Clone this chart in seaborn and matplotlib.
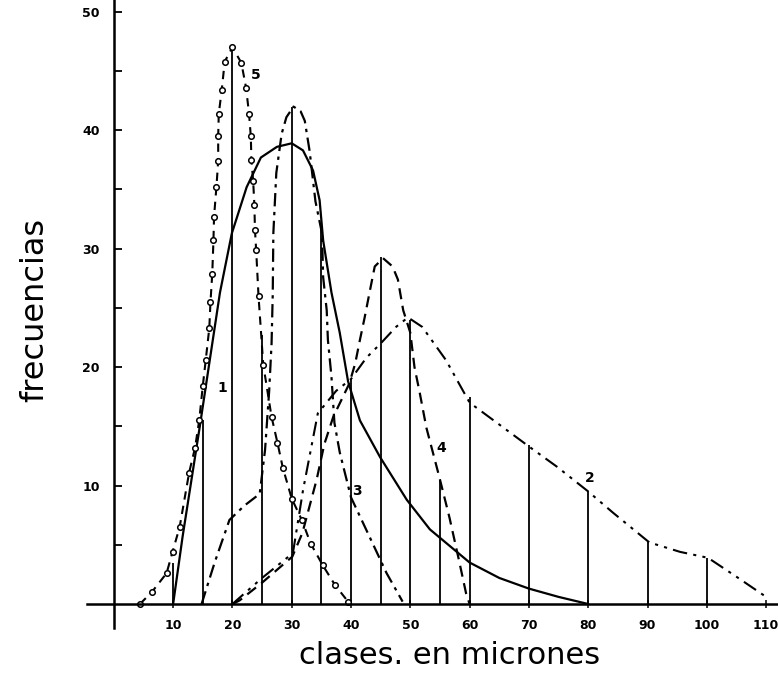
import matplotlib
matplotlib.use("Agg")
import matplotlib.pyplot as plt
import seaborn as sns
import pandas as pd

# ---- data ----
class_x = [10, 15, 20, 25, 30, 35, 40, 45, 50, 55, 60, 70, 80, 90, 100]
class_h = [3.5, 15.5, 47, 22.7, 42, 32, 19, 29.3, 24, 10.5, 17.5, 13.4, 9.5, 5.2, 3.9]

c1_x = [10, 11.6, 14.5, 16, 17.9, 19.9, 22.4, 24.8, 27.5, 30, 31.9, 33.6, 34.7, 35.3, 36.7, 38.1, 39.5, 41.5, 44.9, 49.4, 53.3, 60, 65, 70, 75, 80]
c1_y = [0, 5.7, 15, 20, 26.3, 31.3, 35.2, 37.7, 38.6, 38.9, 38.3, 36.6, 34.1, 30.7, 26.3, 22.9, 18.8, 15.5, 12.4, 8.8, 6.3, 3.5, 2.2, 1.3, 0.6, 0]

c2_x = [20, 25, 30.2, 31.9, 34.4, 37.5, 40, 42.6, 45, 47.6, 49.6, 52, 56, 60, 64.6, 70, 74.7, 80, 84.2, 90.3, 95.5, 100.2, 105, 110]
c2_y = [0, 2.2, 4.3, 9.6, 16.1, 18, 19, 20.8, 22, 23.4, 24.2, 23.4, 20.6, 17, 15.3, 13.3, 11.6, 9.5, 7.7, 5.2, 4.4, 3.9, 2.3, 0.6]

c3_x = [14.8, 17, 19.5, 22, 24.6, 25.5, 26.2, 26.6, 26.8, 26.9, 27.4, 28.3, 29.1, 30.3, 31.5, 32.2, 33, 34, 35.1, 35.3, 35.9, 36.1, 36.7, 37.2, 38.1, 40, 43.1, 46, 48.7]
c3_y = [0, 3.5, 7.1, 8.3, 9.3, 13, 18, 22, 26.2, 31.3, 36.4, 39.7, 41.1, 42, 41.6, 40.8, 38.3, 34, 31.3, 27.6, 24.8, 22.3, 19.2, 15.3, 12.8, 9, 5.7, 2.6, 0.2]

c4_x = [20, 21.2, 25, 30.1, 31.8, 34.2, 35.5, 37, 39.7, 40.7, 41.5, 42.3, 43.2, 44, 45.4, 47, 47.9, 48.8, 50, 50.7, 51.6, 52.7, 54.9, 56.6, 58.2, 59.4, 60]
c4_y = [0, 0.3, 1.8, 4, 6, 10.5, 13.5, 15.8, 18.6, 20.3, 22.3, 24.2, 26.5, 28.5, 29.2, 28.5, 27.4, 24.8, 22.9, 20, 17.8, 14.9, 10.7, 7.3, 3.7, 0.9, 0]

c5_x = [4.4, 6.4, 8.9, 9.9, 11.1, 12.7, 13.7, 14.4, 15.0, 15.5, 16.1, 16.3, 16.6, 16.8, 16.9, 17.3, 17.6, 17.6, 17.7, 18.2, 18.7, 20,
        21.5, 22.3, 22.8, 23.1, 23.2, 23.5, 23.7, 23.8, 24.0, 24.4, 25.2, 26.6, 27.6, 28.5, 30, 31.7, 33.2, 35.2, 37.3, 39.5]
c5_y = [0, 1.0, 2.6, 4.4, 6.5, 11.1, 13.2, 15.5, 18.4, 20.6, 23.3, 25.5, 27.9, 30.7, 32.7, 35.2, 37.4, 39.5, 41.4, 43.4, 45.8, 47,
        45.7, 43.6, 41.4, 39.5, 37.5, 35.7, 33.7, 31.6, 29.9, 26, 20.2, 15.8, 13.6, 11.5, 8.9, 7.1, 5.1, 3.3, 1.6, 0.2]

curve_labels = ["1", "2", "3", "4", "5"]
label_x = [18.3, 80.3, 41, 55.2, 24]
label_y = [18.2, 10.6, 9.5, 13.2, 44.7]

x_ticks = [10, 20, 30, 40, 50, 60, 70, 80, 90, 100, 110]
y_ticks = [10, 20, 30, 40, 50]

# ---- drawing ----
sns.set_theme(style="white")
plt.rcParams['font.family'] = ['DejaVu Sans']
plt.rcParams['text.color'] = 'black'
plt.rcParams['axes.labelcolor'] = 'black'
plt.rcParams['xtick.color'] = 'black'
plt.rcParams['ytick.color'] = 'black'

fig = plt.figure(figsize=(7.78, 6.90), dpi=100)
ax = fig.add_axes([0.112, 0.0903, 0.888, 0.9097])

ax.vlines(class_x, 0, class_h, colors="black", linewidth=1.3)

styles = {
    "1": dict(linestyle="-", linewidth=1.6),
    "2": dict(linestyle=(0, (7, 3, 1.5, 3, 1.5, 3)), linewidth=1.5),
    "3": dict(linestyle=(0, (6, 2.5, 1.5, 2.5)), linewidth=1.6),
    "4": dict(linestyle=(0, (5, 3)), linewidth=1.6),
}
curves = {"1": (c1_x, c1_y), "2": (c2_x, c2_y), "3": (c3_x, c3_y), "4": (c4_x, c4_y)}
for k, (xs, ys) in curves.items():
    df = pd.DataFrame({"x": xs, "y": ys})
    sns.lineplot(data=df, x="x", y="y", sort=False, estimator=None, color="black", ax=ax, **styles[k])

df5 = pd.DataFrame({"x": c5_x, "y": c5_y})
sns.lineplot(data=df5, x="x", y="y", sort=False, estimator=None, color="black", ax=ax,
             linestyle=(0, (4, 3)), linewidth=1.5, marker="o", markersize=4,
             markerfacecolor="white", markeredgecolor="black", markeredgewidth=1.1)

for t, lx, ly in zip(curve_labels, label_x, label_y):
    ax.text(lx, ly, t, fontsize=10, fontweight="bold", ha="center", va="center", color="black")

ax.set_xlim(-4.5, 112)
ax.set_ylim(-2, 51)
ax.spines["left"].set_position(("data", 0))
ax.spines["bottom"].set_position(("data", 0))
ax.spines["right"].set_visible(False)
ax.spines["top"].set_visible(False)
for s in ("left", "bottom"):
    ax.spines[s].set_color("black")
    ax.spines[s].set_linewidth(1.8)

ax.set_xticks(x_ticks)
ax.set_xticklabels([str(v) for v in x_ticks], fontsize=9, fontweight="bold", color="black")
ax.set_yticks(y_ticks)
ax.set_yticklabels([str(v) for v in y_ticks], fontsize=9, fontweight="bold", color="black")
ax.set_yticks([5, 15, 25, 35, 45], minor=True)
ax.tick_params(axis="y", which="both", direction="in", length=6, width=1.3, color="black", pad=10, left=True)
ax.tick_params(axis="x", which="both", direction="inout", length=6, width=1.1, color="black", pad=8, bottom=True)
ax.set_xlabel("")
ax.set_ylabel("")
ax.grid(False)

fig.text(450 / 778, 1 - 655 / 690, "clases. en micrones", fontsize=22, ha="center", va="center", color="black")
fig.text(35 / 778, 1 - 310 / 690, "frecuencias", fontsize=23, rotation=90, ha="center", va="center", color="black")

fig.savefig("out.png", dpi=100, facecolor="white")
